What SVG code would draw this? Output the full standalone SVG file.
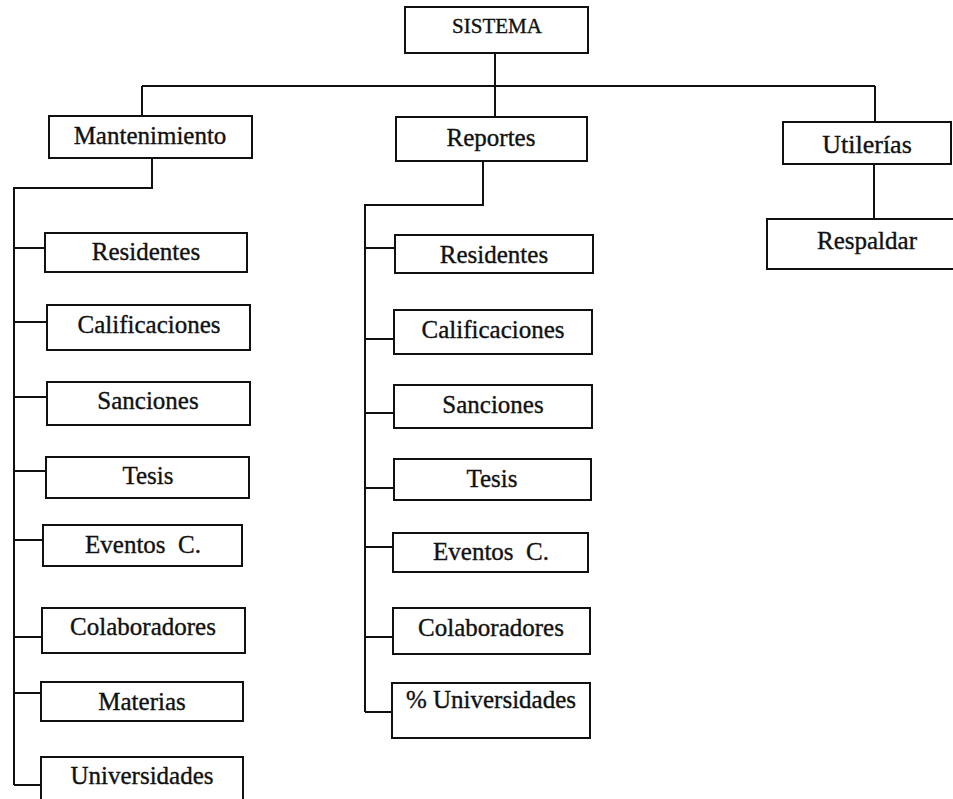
<svg xmlns="http://www.w3.org/2000/svg" width="953" height="799" viewBox="0 0 953 799">
<style>
.box{fill:#fff;stroke:#111;stroke-width:2}
.lbl{font-family:"Liberation Serif","Times New Roman",serif;font-size:25px;fill:#111;stroke:#111;stroke-width:0.35;text-anchor:middle}
.conn{fill:none;stroke:#111;stroke-width:2}
</style>
<rect width="953" height="799" fill="#fff"/>
<g id="connectors" class="conn">
<path d="M495 53V117"/>
<path d="M142 86H875"/>
<path d="M142 86V116"/>
<path d="M875 86V122"/>
<path d="M874 164V219"/>
<path d="M152 158V188H14V785"/>
<path d="M14 248H45M14 322H47M14 397H47M14 471H46M14 540H43M14 637H42M14 693H41M14 785H41"/>
<path d="M483 161V205H365V712"/>
<path d="M365 248H395M365 339H394M365 413H394M365 488H394M365 547H393M365 637H393M365 712H392"/>
</g>
<g id="sistema"><rect class="box" x="405" y="7" width="183" height="46"/><text class="lbl" x="497" y="33" style="font-size:21px">SISTEMA</text></g>
<g id="mantenimiento"><rect class="box" x="49" y="116" width="203" height="42"/><text class="lbl" x="150" y="144">Mantenimiento</text></g>
<g id="reportes"><rect class="box" x="396" y="117" width="191" height="44"/><text class="lbl" x="491" y="146">Reportes</text></g>
<g id="utilerias"><rect class="box" x="783" y="122" width="168" height="42"/><text class="lbl" x="867" y="153" style="font-size:26px">Utilerías</text></g>
<g id="respaldar"><rect class="box" x="767" y="219" width="196" height="50"/><text class="lbl" x="867" y="249">Respaldar</text></g>

<g id="m-residentes"><rect class="box" x="45" y="233" width="202" height="39"/><text class="lbl" x="146" y="260">Residentes</text></g>
<g id="m-calificaciones"><rect class="box" x="47" y="305" width="203" height="45"/><text class="lbl" x="149" y="333">Calificaciones</text></g>
<g id="m-sanciones"><rect class="box" x="47" y="382" width="203" height="43"/><text class="lbl" x="148" y="409">Sanciones</text></g>
<g id="m-tesis"><rect class="box" x="46" y="457" width="203" height="41"/><text class="lbl" x="148" y="484">Tesis</text></g>
<g id="m-eventos"><rect class="box" x="43" y="525" width="199" height="41"/><text class="lbl" x="143" y="553" xml:space="preserve">Eventos  C.</text></g>
<g id="m-colaboradores"><rect class="box" x="42" y="608" width="203" height="45"/><text class="lbl" x="143" y="635">Colaboradores</text></g>
<g id="m-materias"><rect class="box" x="41" y="682" width="202" height="39"/><text class="lbl" x="142" y="710">Materias</text></g>
<g id="m-universidades"><rect class="box" x="41" y="757" width="202" height="60"/><text class="lbl" x="142" y="784">Universidades</text></g>

<g id="r-residentes"><rect class="box" x="395" y="235" width="198" height="38"/><text class="lbl" x="494" y="263">Residentes</text></g>
<g id="r-calificaciones"><rect class="box" x="394" y="310" width="198" height="44"/><text class="lbl" x="493" y="338">Calificaciones</text></g>
<g id="r-sanciones"><rect class="box" x="394" y="385" width="198" height="43"/><text class="lbl" x="493" y="413">Sanciones</text></g>
<g id="r-tesis"><rect class="box" x="394" y="459" width="197" height="41"/><text class="lbl" x="492" y="487">Tesis</text></g>
<g id="r-eventos"><rect class="box" x="393" y="533" width="195" height="39"/><text class="lbl" x="491" y="560" xml:space="preserve">Eventos  C.</text></g>
<g id="r-colaboradores"><rect class="box" x="393" y="608" width="197" height="46"/><text class="lbl" x="491" y="636">Colaboradores</text></g>
<g id="r-universidades"><rect class="box" x="392" y="683" width="198" height="55"/><text class="lbl" x="491" y="708">% Universidades</text></g>
</svg>
